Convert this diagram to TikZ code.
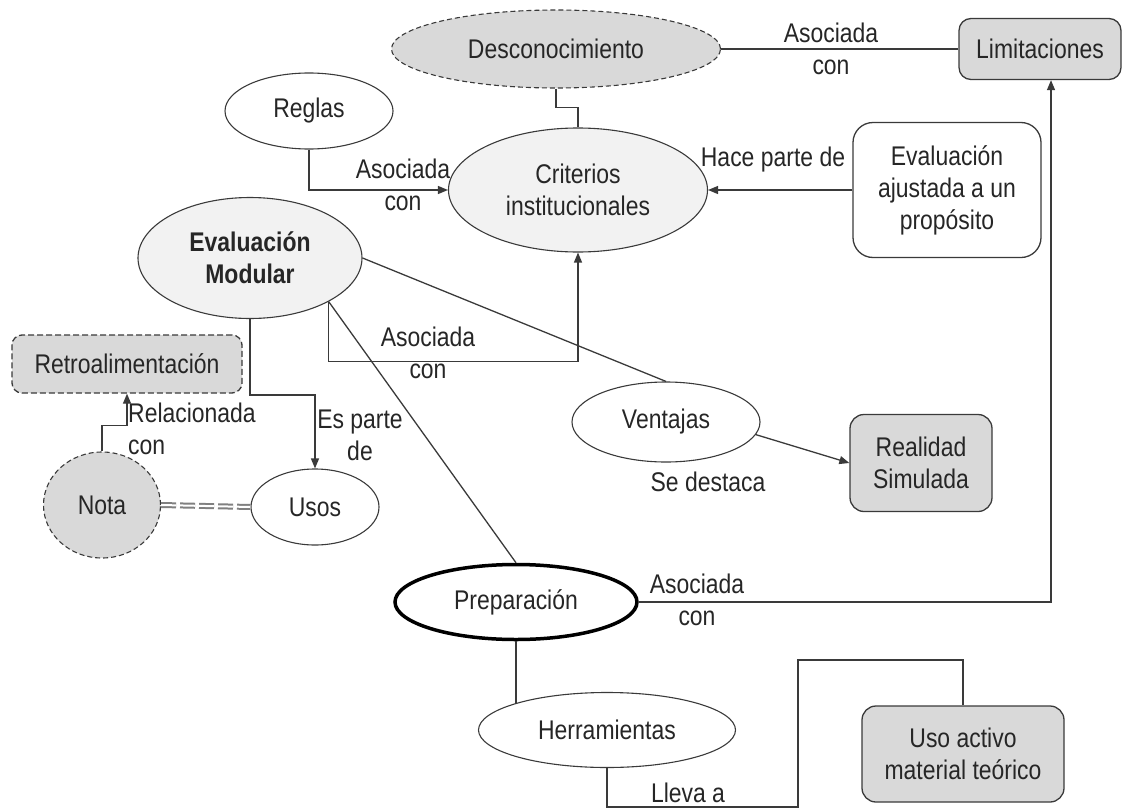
\documentclass[tikz,border=0pt]{standalone}
\usepackage{fontspec}
\setmainfont{Liberation Sans}[FakeStretch=0.85]
\usetikzlibrary{shapes.geometric,arrows.meta}

\begin{document}
\begin{tikzpicture}[x=1pt,y=-1pt,font=\fontsize{27}{32}\selectfont,
  mapline/.style={draw=mapedge,line width=1.3pt},
  maparrow/.style={mapline,-{Triangle[length=10pt,width=8pt]}},
  oval/.style={ellipse,draw=mapedge,line width=1.1pt,inner sep=0pt,align=center,text=maptext},
  card/.style={rectangle,rounded corners=#1,draw=mapedge,line width=1.3pt,inner sep=0pt,align=center,text=maptext},
  card/.default=12pt,
  lbl/.style={align=center,inner sep=0pt,text=maptext}]
  \definecolor{mapgray}{HTML}{D9D9D9}
  \definecolor{maplight}{HTML}{F2F2F2}
  \definecolor{mapedge}{HTML}{3A3A3A}
  \definecolor{maptext}{HTML}{262626}

  % concepts
  \node[oval,fill=mapgray,dash pattern=on 5pt off 3pt,minimum width=329pt,minimum height=78pt] (desc) at (556,49) {Desconocimiento};
  \node[card,fill=mapgray,minimum width=162pt,minimum height=61pt] (lim) at (1040,49) {Limitaciones};
  \node[oval,minimum width=168pt,minimum height=76pt] (reglas) at (309,111) {Reglas};
  \node[oval,fill=maplight,minimum width=259pt,minimum height=124pt] (crit) at (578,190) {Criterios\\institucionales};
  \node[card=20pt,minimum width=188pt,minimum height=135pt] (evaj) at (947,190) {Evaluación\\ajustada a un\\propósito};
  \node[oval,fill=maplight,minimum width=224pt,minimum height=121pt,
        font=\fontsize{27}{32}\selectfont\bfseries] (evmod) at (250,258) {Evaluación\\Modular};
  \node[card=10pt,fill=mapgray,dash pattern=on 6pt off 3pt,minimum width=230pt,minimum height=58pt] (retro) at (127,364) {Retroalimentación};
  \node[oval,fill=mapgray,dash pattern=on 5pt off 3pt,minimum width=117pt,minimum height=106pt] (nota) at (102,505) {Nota};
  \node[oval,minimum width=128pt,minimum height=76pt] (usos) at (315,507) {Usos};
  \node[oval,minimum width=188pt,minimum height=80pt] (vent) at (666,422) {Ventajas};
  \node[card=14pt,fill=mapgray,minimum width=142pt,minimum height=97pt] (real) at (921,463) {Realidad\\Simulada};
  \node[oval,draw=black,line width=3.5pt,minimum width=242pt,minimum height=75pt] (prep) at (516,602) {Preparación};
  \node[oval,minimum width=257pt,minimum height=75pt] (herr) at (607,730) {Herramientas};
  \node[card=14pt,fill=mapgray,minimum width=202pt,minimum height=96pt] (uso) at (963,754) {Uso activo\\material teórico};

  % link labels
  \node[lbl] (lblDL) at (831,49) {Asociada\\con};
  \node[lbl] (lblRC) at (403,185) {Asociada\\con};
  \node[lbl] (lblHP) at (773,160) {Hace parte de};
  \node[lbl] (lblEC) at (428,353) {Asociada\\con};
  \node[lbl,align=left,anchor=west] (lblNR) at (128,429) {Relacionada\\con};
  \node[lbl] (lblEU) at (360,435) {Es parte\\de};
  \node[lbl] (lblSD) at (708,482) {Se destaca};
  \node[lbl] (lblPL) at (697,600) {Asociada\\con};
  \node[lbl] (lblLA) at (688,793) {Lleva a};

  % links
  \draw[mapline] (desc.east) -- (lim.west);
  \draw[mapline] (desc.south) -- ++(0,19) -| (crit.north);
  \draw[maparrow] (reglas.south) |- (crit.west);
  \draw[maparrow] (evaj.west) -- (crit.east);
  \draw[maparrow] (evmod.-29) -- ++(0,60) -| (crit.south);
  \draw[mapline] (evmod.-29) -- (prep.north);
  \draw[mapline] (evmod.east) -- (vent.north);
  \draw[maparrow] (vent.-8) -- (real.west);
  \draw[maparrow] (evmod.south) -- ++(0,76) -| (usos.north);
  \draw[maparrow] (nota.north) -- ++(0,-26) -| (retro.south);
  \draw[draw=gray,double=white,double distance=2pt,line width=2pt,dash pattern=on 15pt off 4pt] (nota.east) -- (usos.west);
  \draw[maparrow] (prep.east) -| ([xshift=11pt]lim.south);
  \draw[mapline] (prep.south) -- (prep.south |- herr.164);
  \coordinate (llevaR) at (798,807);
  \coordinate (llevaT) at (798,660);
  \draw[mapline] (herr.south) |- (llevaR) -- (llevaT) -| (uso.north);

  \path[use as bounding box] (0,0) rectangle (1135,811);
\end{tikzpicture}
\end{document}
